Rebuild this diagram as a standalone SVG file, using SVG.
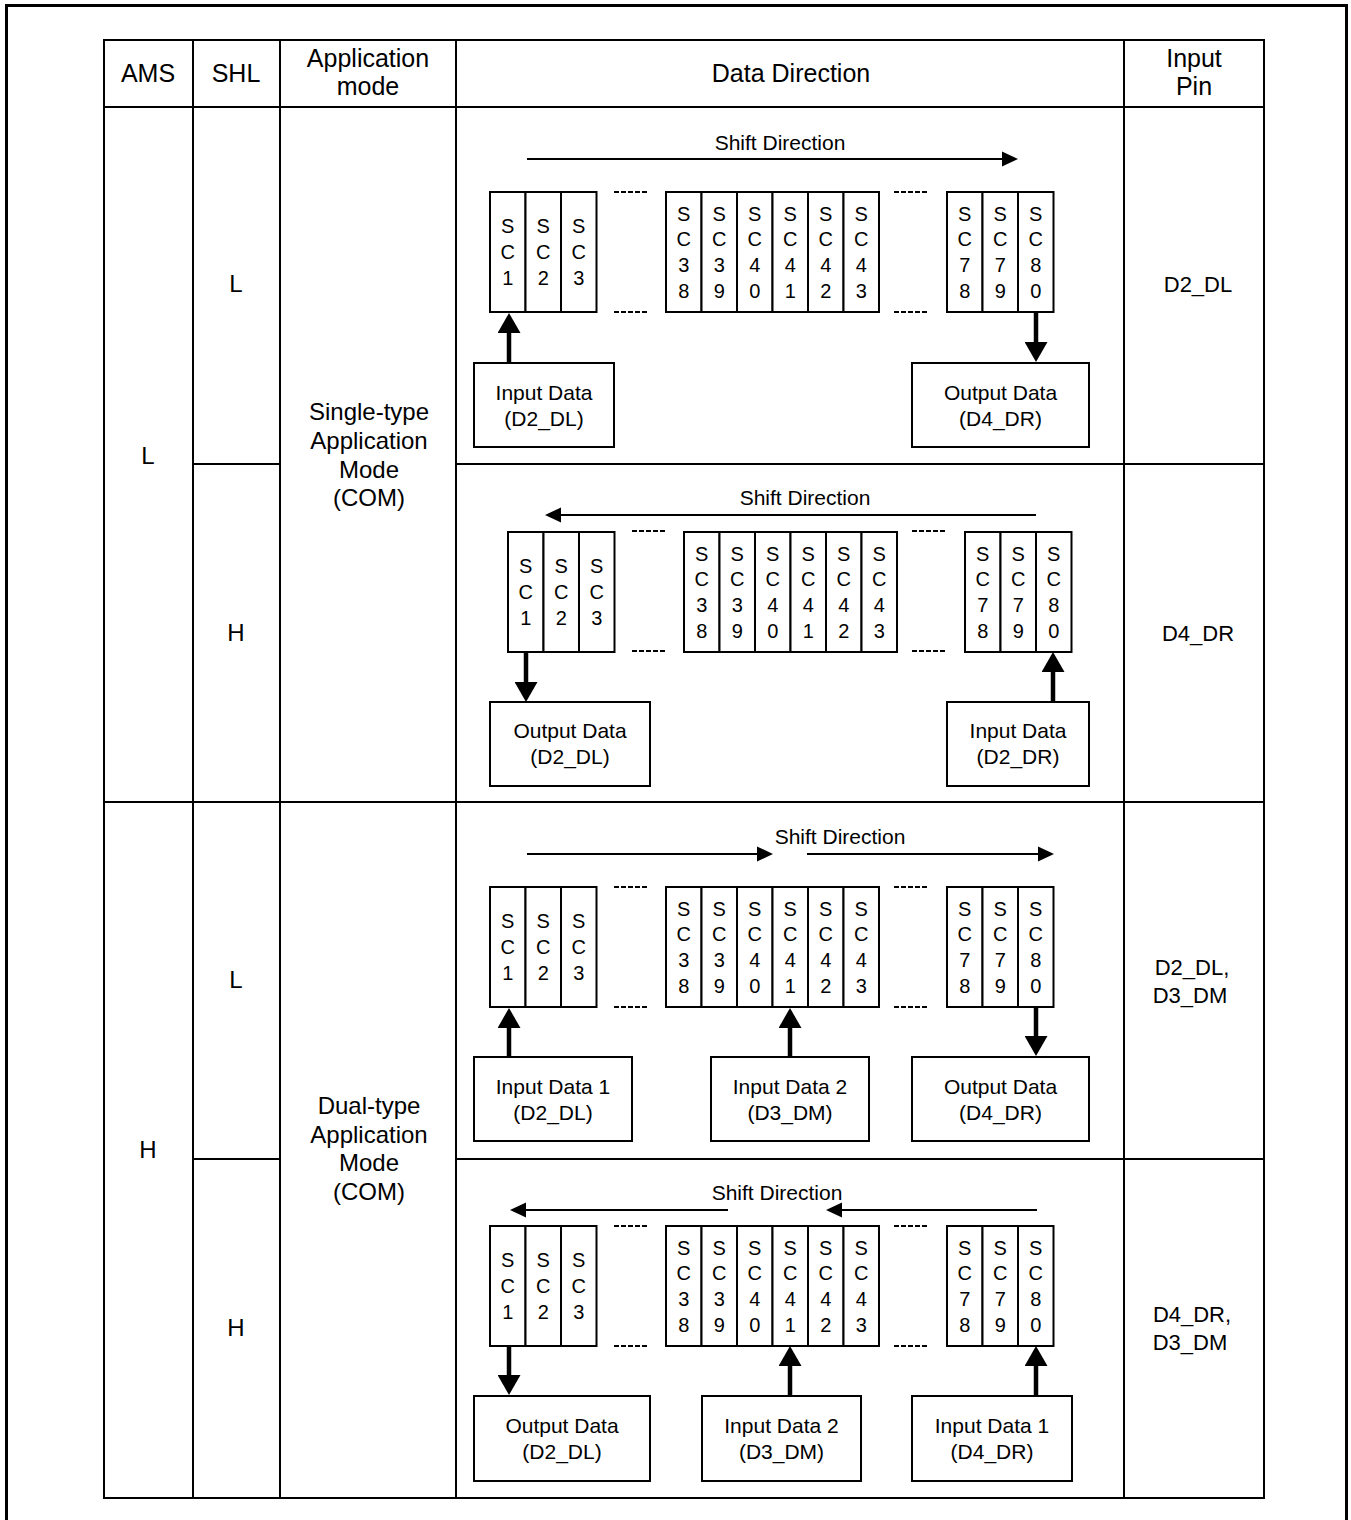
<svg xmlns="http://www.w3.org/2000/svg" width="1351" height="1520" viewBox="0 0 1351 1520">
<style>
text{font-family:"Liberation Sans",Arial,sans-serif;fill:#000;text-anchor:middle}
.hd{font-size:25px}
.lb{font-size:24px}
.pin{font-size:22px}
.sd{font-size:21px}
.bx{font-size:21px}
.sc{font-size:20px}
.grid{stroke:#000;stroke-width:2;fill:none}
.frame{stroke:#000;stroke-width:3;fill:none}
.cell{stroke:#000;stroke-width:2;fill:#fff}
.box{stroke:#000;stroke-width:2;fill:#fff}
.dash{stroke:#000;stroke-width:2;stroke-dasharray:5 2}
.thin{stroke:#000;stroke-width:2;fill:none}
.thick{stroke:#000;stroke-width:4.5;fill:none}
</style>
<defs>
<marker id="hThin" markerUnits="userSpaceOnUse" markerWidth="16" markerHeight="16" refX="2" refY="7.5" orient="auto" viewBox="0 0 16 15"><path d="M0,0 L16,7.5 L0,15 z" fill="#000"/></marker>
<marker id="hThick" markerUnits="userSpaceOnUse" markerWidth="20" markerHeight="23" refX="2" refY="11.5" orient="auto" viewBox="0 0 20 23"><path d="M0,0 L20,11.5 L0,23 z" fill="#000"/></marker>
<g id="tG1">
<rect class="cell" x="0" y="0" width="35.5" height="120"/><rect class="cell" x="35.5" y="0" width="35.5" height="120"/><rect class="cell" x="71" y="0" width="35.5" height="120"/>
<text class="sc"><tspan x="17.75" y="41">S</tspan><tspan x="17.75" y="67">C</tspan><tspan x="17.75" y="93">1</tspan></text>
<text class="sc"><tspan x="53.25" y="41">S</tspan><tspan x="53.25" y="67">C</tspan><tspan x="53.25" y="93">2</tspan></text>
<text class="sc"><tspan x="88.75" y="41">S</tspan><tspan x="88.75" y="67">C</tspan><tspan x="88.75" y="93">3</tspan></text>
</g>
<g id="tG2">
<rect class="cell" x="0" y="0" width="35.5" height="120"/><rect class="cell" x="35.5" y="0" width="35.5" height="120"/><rect class="cell" x="71" y="0" width="35.5" height="120"/><rect class="cell" x="106.5" y="0" width="35.5" height="120"/><rect class="cell" x="142" y="0" width="35.5" height="120"/><rect class="cell" x="177.5" y="0" width="35.5" height="120"/>
<text class="sc"><tspan x="17.75" y="28.5">S</tspan><tspan x="17.75" y="54">C</tspan><tspan x="17.75" y="80">3</tspan><tspan x="17.75" y="106">8</tspan></text>
<text class="sc"><tspan x="53.25" y="28.5">S</tspan><tspan x="53.25" y="54">C</tspan><tspan x="53.25" y="80">3</tspan><tspan x="53.25" y="106">9</tspan></text>
<text class="sc"><tspan x="88.75" y="28.5">S</tspan><tspan x="88.75" y="54">C</tspan><tspan x="88.75" y="80">4</tspan><tspan x="88.75" y="106">0</tspan></text>
<text class="sc"><tspan x="124.25" y="28.5">S</tspan><tspan x="124.25" y="54">C</tspan><tspan x="124.25" y="80">4</tspan><tspan x="124.25" y="106">1</tspan></text>
<text class="sc"><tspan x="159.75" y="28.5">S</tspan><tspan x="159.75" y="54">C</tspan><tspan x="159.75" y="80">4</tspan><tspan x="159.75" y="106">2</tspan></text>
<text class="sc"><tspan x="195.25" y="28.5">S</tspan><tspan x="195.25" y="54">C</tspan><tspan x="195.25" y="80">4</tspan><tspan x="195.25" y="106">3</tspan></text>
</g>
<g id="tG3">
<rect class="cell" x="0" y="0" width="35.5" height="120"/><rect class="cell" x="35.5" y="0" width="35.5" height="120"/><rect class="cell" x="71" y="0" width="35.5" height="120"/>
<text class="sc"><tspan x="17.75" y="28.5">S</tspan><tspan x="17.75" y="54">C</tspan><tspan x="17.75" y="80">7</tspan><tspan x="17.75" y="106">8</tspan></text>
<text class="sc"><tspan x="53.25" y="28.5">S</tspan><tspan x="53.25" y="54">C</tspan><tspan x="53.25" y="80">7</tspan><tspan x="53.25" y="106">9</tspan></text>
<text class="sc"><tspan x="88.75" y="28.5">S</tspan><tspan x="88.75" y="54">C</tspan><tspan x="88.75" y="80">8</tspan><tspan x="88.75" y="106">0</tspan></text>
</g>
<g id="tDots">
<line class="dash" x1="0" y1="0" x2="34" y2="0"/><line class="dash" x1="0" y1="120" x2="34" y2="120"/>
</g>
</defs>

<rect width="1351" height="1520" fill="#fff"/>
<rect class="frame" x="6.5" y="5.5" width="1340" height="1520"/>

<g id="table">
<rect class="grid" x="104" y="40" width="1160" height="1458"/>
<line class="grid" x1="193" y1="40" x2="193" y2="1498"/>
<line class="grid" x1="280" y1="40" x2="280" y2="1498"/>
<line class="grid" x1="456" y1="40" x2="456" y2="1498"/>
<line class="grid" x1="1124" y1="40" x2="1124" y2="1498"/>
<line class="grid" x1="104" y1="107" x2="1264" y2="107"/>
<line class="grid" x1="104" y1="802" x2="1264" y2="802"/>
<line class="grid" x1="193" y1="464" x2="280" y2="464"/>
<line class="grid" x1="456" y1="464" x2="1264" y2="464"/>
<line class="grid" x1="193" y1="1159" x2="280" y2="1159"/>
<line class="grid" x1="456" y1="1159" x2="1264" y2="1159"/>
</g>

<g id="header">
<text class="hd" x="148" y="82">AMS</text>
<text class="hd" x="236" y="82">SHL</text>
<text class="hd"><tspan x="368" y="67">Application</tspan><tspan x="368" y="95">mode</tspan></text>
<text class="hd" x="791" y="82">Data Direction</text>
<text class="hd"><tspan x="1194" y="67">Input</tspan><tspan x="1194" y="95">Pin</tspan></text>
</g>

<g id="labels">
<text class="lb" x="148" y="464">L</text>
<text class="lb" x="148" y="1158">H</text>
<text class="lb" x="236" y="292">L</text>
<text class="lb" x="236" y="641">H</text>
<text class="lb" x="236" y="988">L</text>
<text class="lb" x="236" y="1336">H</text>
<text class="lb"><tspan x="369" y="420">Single-type</tspan><tspan x="369" y="449">Application</tspan><tspan x="369" y="478">Mode</tspan><tspan x="369" y="506">(COM)</tspan></text>
<text class="lb"><tspan x="369" y="1114">Dual-type</tspan><tspan x="369" y="1143">Application</tspan><tspan x="369" y="1171">Mode</tspan><tspan x="369" y="1200">(COM)</tspan></text>
<text class="pin" x="1198" y="292">D2_DL</text>
<text class="pin" x="1198" y="641">D4_DR</text>
<text class="pin"><tspan x="1192" y="975">D2_DL,</tspan><tspan x="1190" y="1003">D3_DM</tspan></text>
<text class="pin"><tspan x="1192" y="1322">D4_DR,</tspan><tspan x="1190" y="1350">D3_DM</tspan></text>
</g>

<!-- Section 1 -->
<g id="s1">
<text class="sd" x="780" y="149.5">Shift Direction</text>
<g id="s1-g1"><use href="#tG1" x="490" y="192"/></g>
<g id="s1-g2"><use href="#tG2" x="666" y="192"/></g>
<g id="s1-g3"><use href="#tG3" x="947" y="192"/></g>
<use href="#tDots" x="614" y="192"/><use href="#tDots" x="894" y="192"/>
<g id="s1-in"><rect class="box" x="474" y="363" width="140" height="84"/><text class="bx"><tspan x="544" y="399.5">Input Data</tspan><tspan x="544" y="425.5">(D2_DL)</tspan></text></g>
<g id="s1-out"><rect class="box" x="912" y="363" width="177" height="84"/><text class="bx"><tspan x="1000.5" y="399.5">Output Data</tspan><tspan x="1000.5" y="425.5">(D4_DR)</tspan></text></g>
</g>

<!-- Section 2 -->
<g id="s2">
<text class="sd" x="805" y="504.5">Shift Direction</text>
<g id="s2-g1"><use href="#tG1" x="508" y="532"/></g>
<g id="s2-g2"><use href="#tG2" x="684" y="532"/></g>
<g id="s2-g3"><use href="#tG3" x="965" y="532"/></g>
<use href="#tDots" x="632" y="531"/><use href="#tDots" x="912" y="531"/>
<g id="s2-out"><rect class="box" x="490" y="702" width="160" height="84"/><text class="bx"><tspan x="570" y="737.5">Output Data</tspan><tspan x="570" y="763.5">(D2_DL)</tspan></text></g>
<g id="s2-in"><rect class="box" x="947" y="702" width="142" height="84"/><text class="bx"><tspan x="1018" y="737.5">Input Data</tspan><tspan x="1018" y="763.5">(D2_DR)</tspan></text></g>
</g>

<!-- Section 3 -->
<g id="s3">
<text class="sd" x="840" y="843.5">Shift Direction</text>
<g id="s3-g1"><use href="#tG1" x="490" y="887"/></g>
<g id="s3-g2"><use href="#tG2" x="666" y="887"/></g>
<g id="s3-g3"><use href="#tG3" x="947" y="887"/></g>
<use href="#tDots" x="614" y="887"/><use href="#tDots" x="894" y="887"/>
<g id="s3-in1"><rect class="box" x="474" y="1057" width="158" height="84"/><text class="bx"><tspan x="553" y="1093.5">Input Data 1</tspan><tspan x="553" y="1119.5">(D2_DL)</tspan></text></g>
<g id="s3-in2"><rect class="box" x="711" y="1057" width="158" height="84"/><text class="bx"><tspan x="790" y="1093.5">Input Data 2</tspan><tspan x="790" y="1119.5">(D3_DM)</tspan></text></g>
<g id="s3-out"><rect class="box" x="912" y="1057" width="177" height="84"/><text class="bx"><tspan x="1000.5" y="1093.5">Output Data</tspan><tspan x="1000.5" y="1119.5">(D4_DR)</tspan></text></g>
</g>

<!-- Section 4 -->
<g id="s4">
<text class="sd" x="777" y="1199.5">Shift Direction</text>
<g id="s4-g1"><use href="#tG1" x="490" y="1226"/></g>
<g id="s4-g2"><use href="#tG2" x="666" y="1226"/></g>
<g id="s4-g3"><use href="#tG3" x="947" y="1226"/></g>
<use href="#tDots" x="614" y="1226"/><use href="#tDots" x="894" y="1226"/>
<g id="s4-out"><rect class="box" x="474" y="1396" width="176" height="85"/><text class="bx"><tspan x="562" y="1432.5">Output Data</tspan><tspan x="562" y="1458.5">(D2_DL)</tspan></text></g>
<g id="s4-in2"><rect class="box" x="702" y="1396" width="159" height="85"/><text class="bx"><tspan x="781.5" y="1432.5">Input Data 2</tspan><tspan x="781.5" y="1458.5">(D3_DM)</tspan></text></g>
<g id="s4-in1"><rect class="box" x="912" y="1396" width="160" height="85"/><text class="bx"><tspan x="992" y="1432.5">Input Data 1</tspan><tspan x="992" y="1458.5">(D4_DR)</tspan></text></g>
</g>

<g id="connectors">
<line class="thin" x1="527" y1="159" x2="1004" y2="159" marker-end="url(#hThin)"/>
<line class="thick" x1="509" y1="363" x2="509" y2="331" marker-end="url(#hThick)"/>
<line class="thick" x1="1036" y1="312" x2="1036" y2="344" marker-end="url(#hThick)"/>

<line class="thin" x1="1036" y1="515" x2="559" y2="515" marker-end="url(#hThin)"/>
<line class="thick" x1="526" y1="652" x2="526" y2="684" marker-end="url(#hThick)"/>
<line class="thick" x1="1053" y1="702" x2="1053" y2="670" marker-end="url(#hThick)"/>

<line class="thin" x1="527" y1="854" x2="759" y2="854" marker-end="url(#hThin)"/>
<line class="thin" x1="807" y1="854" x2="1040" y2="854" marker-end="url(#hThin)"/>
<line class="thick" x1="509" y1="1057" x2="509" y2="1026" marker-end="url(#hThick)"/>
<line class="thick" x1="790" y1="1057" x2="790" y2="1026" marker-end="url(#hThick)"/>
<line class="thick" x1="1036" y1="1007" x2="1036" y2="1038" marker-end="url(#hThick)"/>

<line class="thin" x1="728" y1="1210" x2="524" y2="1210" marker-end="url(#hThin)"/>
<line class="thin" x1="1037" y1="1210" x2="840" y2="1210" marker-end="url(#hThin)"/>
<line class="thick" x1="509" y1="1346" x2="509" y2="1377" marker-end="url(#hThick)"/>
<line class="thick" x1="790" y1="1396" x2="790" y2="1364" marker-end="url(#hThick)"/>
<line class="thick" x1="1036" y1="1396" x2="1036" y2="1364" marker-end="url(#hThick)"/>
</g>
</svg>
